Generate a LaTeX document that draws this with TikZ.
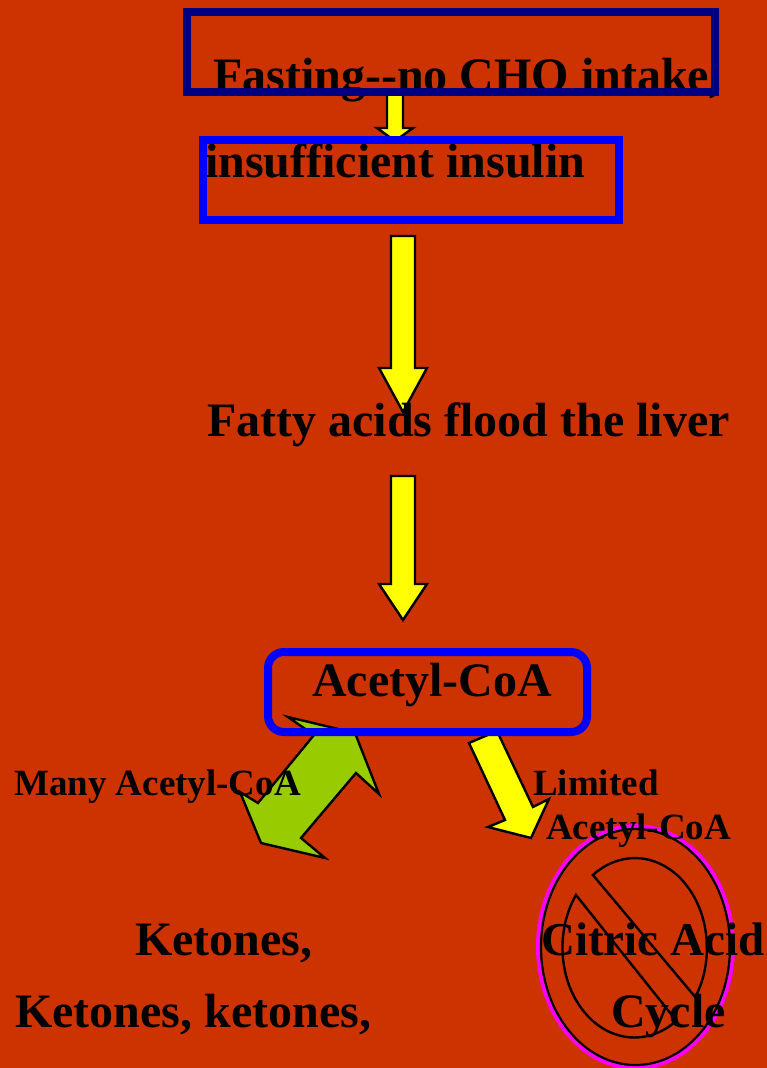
\documentclass[tikz,border=0pt]{standalone}
\usepackage{fontspec}
\setmainfont{Liberation Serif}
\usepackage{xcolor}
\definecolor{slidebg}{HTML}{CC3300}
\definecolor{navybox}{HTML}{000080}
\definecolor{bluebox}{HTML}{0000FF}
\definecolor{limegreen}{HTML}{99CC00}
\definecolor{arrowyellow}{HTML}{FFFF00}
\definecolor{ringpink}{HTML}{FF00FF}
\tikzset{
  bigtext/.style={anchor=base west,inner sep=0pt,font=\fontsize{48}{48}\selectfont\bfseries},
  citrictext/.style={anchor=base west,inner sep=0pt,font=\fontsize{47}{47}\selectfont\bfseries},
  smalltext/.style={anchor=base west,inner sep=0pt,font=\fontsize{37}{37}\selectfont\bfseries},
  framebox/.style={draw=#1,line width=8pt,inner sep=0pt,outer sep=0pt,anchor=north west},
  blockarrow/.style={draw=black,line width=2.4pt,miter limit=10,fill=arrowyellow},
}
\begin{document}
\begin{tikzpicture}[x=1pt,y=-1pt]
  \useasboundingbox (0,0) rectangle (767,1068);
  \fill[slidebg] (0,0) rectangle (767,1068);
  % down arrows
  \draw[blockarrow] (387,90) -- (403,90) -- (403,128) -- (413,128) -- (395,141) -- (377,128) -- (387,128) -- cycle;
  \foreach \ytop/\yneck/\ytip in {236/368/412,476/584/620}{
    \draw[blockarrow] (391,\ytop) -- (415,\ytop) -- (415,\yneck) -- (427,\yneck) -- (403,\ytip) -- (379,\yneck) -- (391,\yneck) -- cycle;
  }
  % slanted arrows below the box
  \draw[blockarrow,fill=limegreen] (288,717) -- (355,733) -- (379,794) -- (356,773) -- (301,838) -- (325,858) -- (261,843) -- (240,792) -- (258,803) -- (314,735) -- cycle;
  \draw[blockarrow] (469,743) -- (497,731) -- (533,807) -- (549,799) -- (531,838) -- (488,827) -- (505,820) -- cycle;
  % ring and crossed circle
  \draw[ringpink,line width=4pt] (635.5,947) ellipse (97.5 and 121);
  \draw[black,line width=2.2pt] (635.5,947) ellipse (94.5 and 118);
  \draw[black,line width=2.4pt] (592.9,875) arc (-125.7:33:72 and 90) -- cycle;
  \draw[black,line width=2.4pt] (576,895) arc (215.7:54.4:72 and 90) -- cycle;
  % texts
  \node[bigtext] (fasting) at (213,91) {Fasting-{}-no CHO intake,};
  \node[bigtext] (insulin) at (205,177) {insufficient insulin};
  \node[bigtext] (fatty) at (207,436) {Fatty acids flood the liver};
  \node[bigtext] (acetyl) at (312,696) {Acetyl-CoA};
  \node[smalltext] (many) at (14,795) {Many Acetyl-CoA};
  \node[smalltext] (limited) at (533,795) {Limited};
  \node[smalltext] (limacetyl) at (546,839) {Acetyl-CoA};
  \node[bigtext] (ketones) at (135,955) {Ketones,};
  \node[bigtext] (ketonestwo) at (15,1027) {Ketones, ketones,};
  \node[citrictext] (citric) at (541,955) {Citric Acid};
  \node[bigtext] (cycle) at (611,1027) {Cycle};
  % frames
  \node[framebox=navybox,minimum width=528pt,minimum height=80pt] (fastingbox) at (187,12) {};
  \node[framebox=bluebox,minimum width=416pt,minimum height=80pt] (insulinbox) at (203,140) {};
  \node[framebox=bluebox,rounded corners=16pt,minimum width=319pt,minimum height=80pt] (acetylbox) at (268,652) {};
\end{tikzpicture}
\end{document}
